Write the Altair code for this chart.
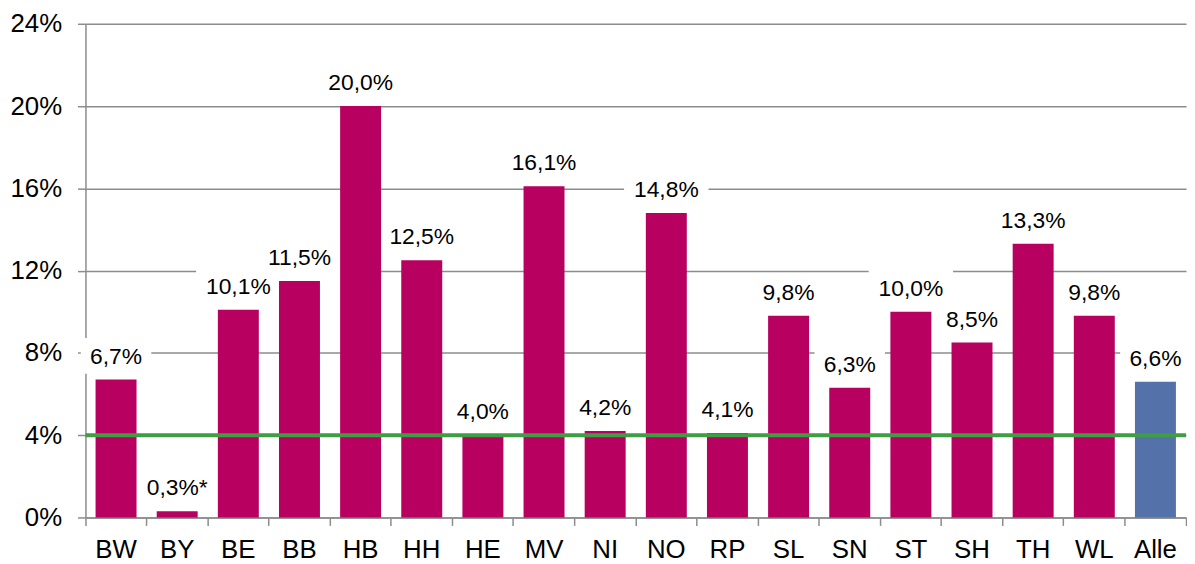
import altair as alt
import pandas as pd

categories = ["BW", "BY", "BE", "BB", "HB", "HH", "HE", "MV", "NI", "NO",
              "RP", "SL", "SN", "ST", "SH", "TH", "WL", "Alle"]
values = [6.7, 0.3, 10.1, 11.5, 20.0, 12.5, 4.0, 16.1, 4.2, 14.8,
          4.1, 9.8, 6.3, 10.0, 8.5, 13.3, 9.8, 6.6]
labels = ["6,7%", "0,3%*", "10,1%", "11,5%", "20,0%", "12,5%", "4,0%", "16,1%",
          "4,2%", "14,8%", "4,1%", "9,8%", "6,3%", "10,0%", "8,5%", "13,3%",
          "9,8%", "6,6%"]
groups = ["Land"] * 17 + ["Gesamt"]
target = [4.0]
y_ticks = [0, 4, 8, 12, 16, 20, 24]

df = pd.DataFrame({"cat": categories, "val": values, "lab": labels, "grp": groups})
ref = pd.DataFrame({"y": target})

FONT = "Liberation Sans"
GRID = "#8c8c8c"

x = alt.X("cat:N", sort=categories, title=None,
          scale=alt.Scale(paddingInner=0, paddingOuter=0),
          axis=alt.Axis(labelAngle=0, bandPosition=1, tickExtra=True, labelFontSize=26,
                        labelFont=FONT, labelColor="#000000", domainColor=GRID,
                        domainWidth=1.5, tickColor=GRID, tickWidth=1.5, tickSize=8,
                        labelPadding=11, grid=False))
y = alt.Y("val:Q", title=None,
          scale=alt.Scale(domain=[0, 24], nice=False),
          axis=alt.Axis(values=y_ticks, labelExpr="datum.value + '%'", labelFontSize=26,
                        labelFont=FONT, labelColor="#000000", domainColor=GRID,
                        domainWidth=1.5, tickColor=GRID, tickWidth=1.5, tickSize=8,
                        labelPadding=16, grid=True, gridColor=GRID, gridWidth=1.5))

base = alt.Chart(df)

# white label boxes (Excel-style data label background) that interrupt gridlines
box_wide = "M-4.25,-1.8L4.25,-1.8L4.25,1.8L-4.25,1.8Z"
box_narrow = "M-3.55,-1.8L3.55,-1.8L3.55,1.8L-3.55,1.8Z"
boxes = base.mark_point(filled=True, size=400, opacity=1, color="white",
                        strokeWidth=0, yOffset=-24).encode(
    x=x, y=y,
    shape=alt.condition("length(datum.lab) >= 5", alt.value(box_wide), alt.value(box_narrow)))

bars = base.mark_bar(width=alt.RelativeBandSize(0.67)).encode(
    x=x, y=y,
    color=alt.Color("grp:N", scale=alt.Scale(domain=["Land", "Gesamt"],
                                             range=["#B7005F", "#5571A9"]), legend=None))

text = base.mark_text(fontSize=23, font=FONT, baseline="alphabetic", dy=-16,
                      color="#000000").encode(x=x, y=y, text="lab:N")

rule = alt.Chart(ref).mark_rule(color="#3E9E44", strokeWidth=4).encode(
    y=alt.Y("y:Q", scale=alt.Scale(domain=[0, 24], nice=False)))

chart = alt.layer(boxes, bars, rule, text).properties(
    width=1108, height=497,
    autosize=alt.AutoSizeParams(type="none"),
    padding={"left": 78, "top": 14, "right": 1, "bottom": 46},
).configure_view(stroke=None)

chart.save("out.html", embed_options={"renderer": "svg", "actions": False})
